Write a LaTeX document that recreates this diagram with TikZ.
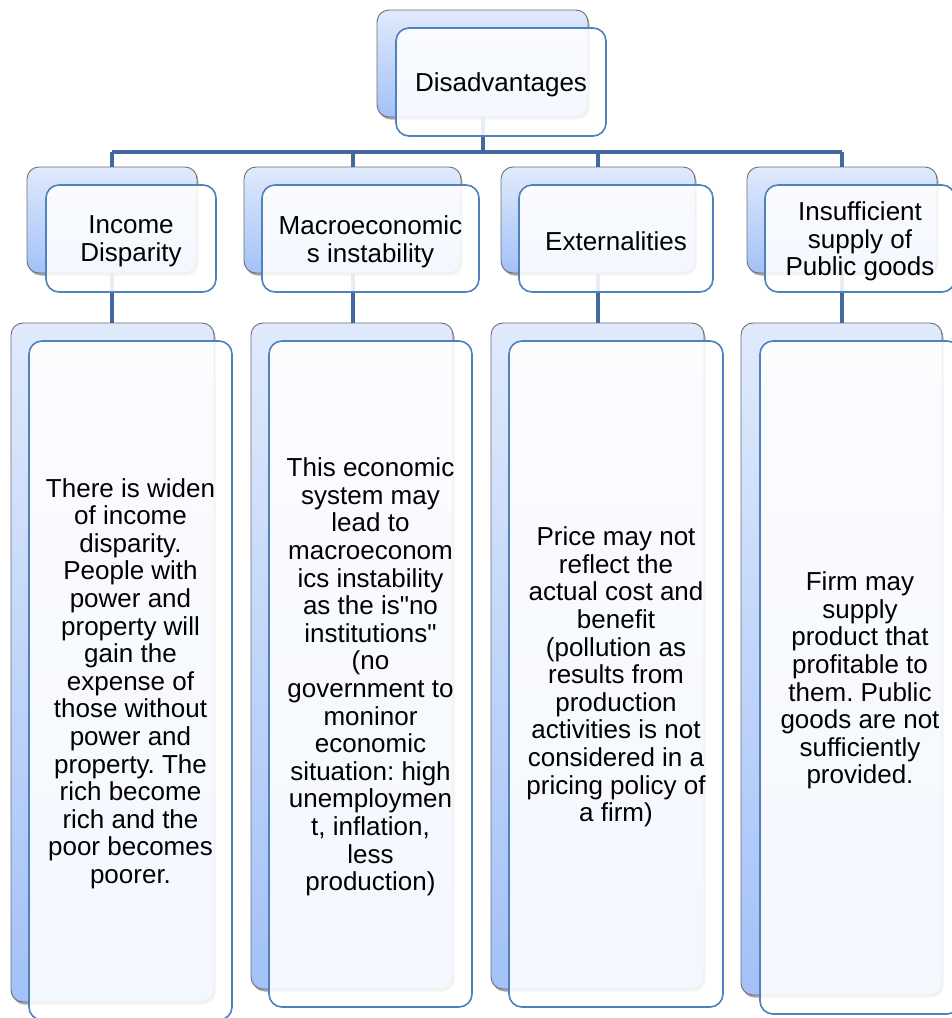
\documentclass[tikz,border=0pt]{standalone}
\usepackage{fontspec}
\setmainfont{Liberation Sans}[Ligatures=TeXOff]
\usetikzlibrary{shadows}
\definecolor{conncol}{RGB}{66,104,158}
\definecolor{frontborder}{RGB}{79,129,189}
\definecolor{backtop}{RGB}{224,234,252}
\definecolor{backbot}{RGB}{163,193,248}
\definecolor{backborder}{RGB}{110,110,110}
\tikzset{
  backbox/.style={draw=backborder, line width=0.9pt, rounded corners=12pt,
    top color=backtop, bottom color=backbot, inner sep=0pt,
    drop shadow={shadow xshift=1.5pt, shadow yshift=-2.5pt, opacity=0.35, fill=black}},
  frontbox/.style={draw=frontborder, line width=1.6pt, rounded corners=13pt,
    fill=white, fill opacity=0.88, inner sep=0pt},
  txt/.style={inner sep=0pt, align=center, yshift=-3pt,
    font=\fontsize{26}{27.6}\selectfont\frenchspacing},
  conn/.style={draw=conncol, line width=4pt},
}
\begin{document}
\begin{tikzpicture}[x=1pt,y=-1pt]
\useasboundingbox (0,0) rectangle (952,1018);
\clip (0,0) rectangle (952,1018);
% back boxes
\node[backbox, minimum width=211pt, minimum height=107pt] (Tb) at (482.5,63.5) {};
\node[backbox, minimum width=170pt, minimum height=106pt] (A1b) at (112,220) {};
\node[backbox, minimum width=217pt, minimum height=106pt] (A2b) at (352.5,220) {};
\node[backbox, minimum width=194pt, minimum height=106pt] (A3b) at (598,220) {};
\node[backbox, minimum width=190pt, minimum height=106pt] (A4b) at (842,220) {};
\node[backbox, minimum width=203pt, minimum height=679pt] (B1b) at (112.5,662.5) {};
\node[backbox, minimum width=202pt, minimum height=666pt] (B2b) at (352,656) {};
\node[backbox, minimum width=213pt, minimum height=666pt] (B3b) at (597.5,656) {};
\node[backbox, minimum width=201pt, minimum height=672pt] (B4b) at (841.5,659) {};
% connectors
\coordinate (bar) at (0,152);
\draw[conn] (Tb.south) -- (Tb.south |- bar);
\draw[conn] (A1b.north |- bar) -- (A4b.north |- bar);
\draw[conn] (A1b.north |- bar) -- (A1b.north);
\draw[conn] (A2b.north |- bar) -- (A2b.north);
\draw[conn] (A3b.north |- bar) -- (A3b.north);
\draw[conn] (A4b.north |- bar) -- (A4b.north);
\draw[conn] (A1b.south) -- (A1b.south |- B1b.north);
\draw[conn] (A2b.south) -- (A2b.south |- B2b.north);
\draw[conn] (A3b.south) -- (A3b.south |- B3b.north);
\draw[conn] (A4b.south) -- (A4b.south |- B4b.north);
% front boxes
\node[frontbox, minimum width=210pt, minimum height=108pt] (T) at (501,82) {};
\node[frontbox, minimum width=170pt, minimum height=107pt] (A1) at (131,238.5) {};
\node[frontbox, minimum width=217pt, minimum height=107pt] (A2) at (370.5,238.5) {};
\node[frontbox, minimum width=194pt, minimum height=107pt] (A3) at (616,238.5) {};
\node[frontbox, minimum width=190pt, minimum height=107pt] (A4) at (860,238.5) {};
\node[frontbox, minimum width=203pt, minimum height=679pt] (B1) at (130.5,680.5) {};
\node[frontbox, minimum width=203pt, minimum height=666pt] (B2) at (370.5,674) {};
\node[frontbox, minimum width=214pt, minimum height=666pt] (B3) at (616,674) {};
\node[frontbox, minimum width=200pt, minimum height=673pt] (B4) at (860,677.5) {};
% texts
\node[txt] (Tt) at (T.center) {Disadvantages};
\node[txt] (A1t) at (A1.center) {Income\\Disparity};
\node[txt] (A2t) at (A2.center) {Macroeconomic\\s instability};
\node[txt] (A3t) at (A3.center) {Externalities};
\node[txt] (A4t) at (A4.center) {Insufficient\\supply of\\Public goods};
\node[txt] (B1t) at (B1.center)
  {There is widen\\of income\\disparity.\\People with\\power and\\property will\\gain the\\expense of\\those without\\power and\\property. The\\rich become\\rich and the\\poor becomes\\poorer.};
\node[txt] (B2t) at (B2.center)
  {This economic\\system may\\lead to\\macroeconom\\ics instability\\as the is"no\\institutions"\\(no\\government to\\moninor\\economic\\situation: high\\unemploymen\\t, inflation,\\less\\production)};
\node[txt] (B3t) at (B3.center)
  {Price may not\\reflect the\\actual cost and\\benefit\\(pollution as\\results from\\production\\activities is not\\considered in a\\pricing policy of\\a firm)};
\node[txt] (B4t) at (B4.center)
  {Firm may\\supply\\product that\\profitable to\\them. Public\\goods are not\\sufficiently\\provided.};
\end{tikzpicture}
\end{document}
